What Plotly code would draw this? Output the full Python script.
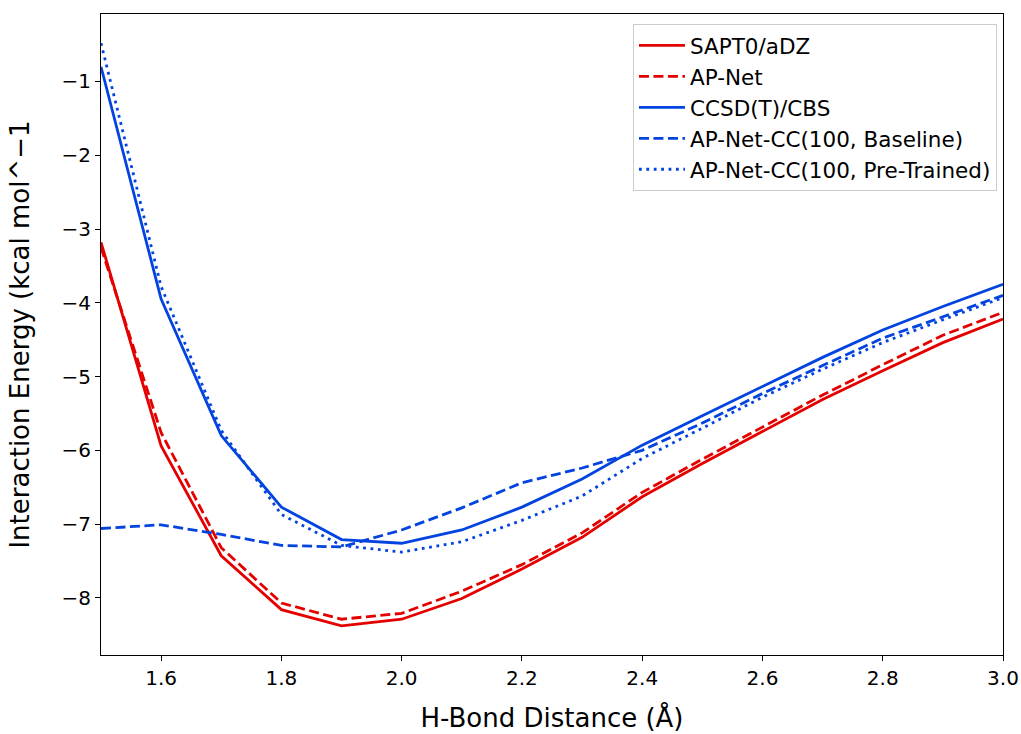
import plotly.graph_objects as go

# H-bond distances (Angstrom)
distance = [1.5, 1.6, 1.7, 1.8, 1.9, 2.0, 2.1, 2.2, 2.3, 2.4, 2.5, 2.6, 2.7, 2.8, 2.9, 3.0]

# interaction energies (kcal/mol)
sapt0_adz = [-3.18, -5.94, -7.43, -8.16, -8.38, -8.29, -8.01, -7.61, -7.18, -6.63, -6.18, -5.74, -5.31, -4.92, -4.54, -4.22]
ap_net = [-3.25, -5.76, -7.32, -8.07, -8.29, -8.21, -7.91, -7.55, -7.12, -6.57, -6.12, -5.68, -5.25, -4.84, -4.44, -4.13]
ccsd_t_cbs = [-0.80, -3.95, -5.80, -6.77, -7.21, -7.26, -7.08, -6.77, -6.39, -5.93, -5.53, -5.13, -4.74, -4.37, -4.05, -3.75]
apnet_cc_baseline = [-7.06, -7.01, -7.14, -7.29, -7.31, -7.08, -6.78, -6.44, -6.24, -6.00, -5.63, -5.23, -4.85, -4.48, -4.19, -3.90]
apnet_cc_pretrained = [-0.48, -3.78, -5.73, -6.87, -7.29, -7.38, -7.24, -6.95, -6.62, -6.11, -5.70, -5.28, -4.90, -4.54, -4.23, -3.93]

y_ticks = [-8, -7, -6, -5, -4, -3, -2, -1]
x_ticks = [1.6, 1.8, 2.0, 2.2, 2.4, 2.6, 2.8, 3.0]

red = '#e50000'
blue = '#0343df'
series = [
    ('SAPT0/aDZ', sapt0_adz, red, 'solid'),
    ('AP-Net', ap_net, red, '10px,4.5px'),
    ('CCSD(T)/CBS', ccsd_t_cbs, blue, 'solid'),
    ('AP-Net-CC(100, Baseline)', apnet_cc_baseline, blue, '10px,4.5px'),
    ('AP-Net-CC(100, Pre-Trained)', apnet_cc_pretrained, blue, '2.8px,4.6px'),
]

fig = go.Figure()
for name, vals, color, dash in series:
    fig.add_trace(go.Scatter(x=distance, y=vals, mode='lines', name=name, legendgroup=name,
                             line=dict(color=color, width=2.8, dash=dash)))

font = 'DejaVu Sans'
fig.update_layout(
    width=1021, height=734,
    margin=dict(l=101, r=18, t=14, b=79),
    plot_bgcolor='white', paper_bgcolor='white',
    font=dict(family=font, size=20, color='black'),
    showlegend=True,
    legend=dict(x=0.9933, y=0.9844, xanchor='right', yanchor='top',
                bgcolor='rgba(255,255,255,0.8)', bordercolor='#cccccc', borderwidth=1,
                font=dict(family=font, size=21.5), tracegroupgap=0, itemwidth=46),
)
fig.update_xaxes(
    range=[1.5, 3.0], tickvals=x_ticks, ticktext=[f'{v:.1f}' for v in x_ticks],
    showgrid=False, zeroline=False, showline=True, linecolor='black', linewidth=1.2, mirror=True,
    ticks='outside', ticklen=5, tickwidth=1.2, tickcolor='black', automargin=False,
    title=dict(text='H-Bond Distance (Å)', font=dict(size=26), standoff=19),
)
fig.update_yaxes(
    range=[-8.775, -0.085], tickvals=y_ticks, ticktext=[f'\u2212{abs(v)}' for v in y_ticks],
    showgrid=False, zeroline=False, showline=True, linecolor='black', linewidth=1.2, mirror=True,
    ticks='outside', ticklen=5, tickwidth=1.2, tickcolor='black', automargin=False,
    title=dict(text='Interaction Energy (kcal mol^\u22121', font=dict(size=26), standoff=24),
)

# drop the default page margin so the figure sits at the window's corner
fig.write_html('out.html', config={'displayModeBar': False},
               post_script="document.body.style.margin='0';")
